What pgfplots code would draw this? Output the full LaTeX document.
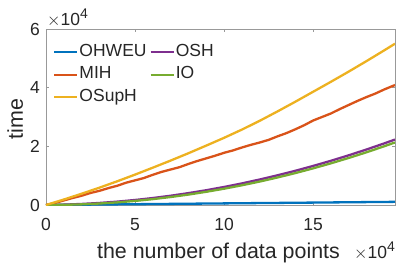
\documentclass[border=0pt]{standalone}
\usepackage{pgfplots}
\pgfplotsset{compat=1.18}
\usepackage{fontspec}
\setmainfont{Liberation Sans}
\definecolor{mblue}{rgb}{0,0.447,0.741}
\definecolor{morange}{rgb}{0.85,0.325,0.098}
\definecolor{myellow}{rgb}{0.929,0.694,0.125}
\definecolor{mpurple}{rgb}{0.494,0.184,0.556}
\definecolor{mgreen}{rgb}{0.466,0.674,0.188}
\definecolor{axgray}{rgb}{0.6,0.6,0.6}
\definecolor{txt}{rgb}{0.15,0.15,0.15}
\newcommand{\tfont}{\fontsize{17.5bp}{20bp}\selectfont}
\newcommand{\lfont}{\fontsize{21.4bp}{24bp}\selectfont}
\newcommand{\scalelab}{$\times$10\raisebox{7bp}{\fontsize{14bp}{16bp}\selectfont 4}}
\begin{document}
\begin{tikzpicture}
\begin{axis}[
  scale only axis,
  width=349bp, height=176bp,
  xmin=0, xmax=19.6, ymin=0, ymax=6,
  xtick={0,5,10,15}, ytick={0,2,4,6},
  tick align=inside,
  major tick length=3bp,
  axis line style={axgray, line width=0.5bp},
  every tick/.style={axgray, line width=0.5bp},
  /pgf/number format/assume math mode=true,
  tick label style={font=\tfont, text=txt},
  xticklabel style={anchor=base, yshift=-25bp, inner sep=0pt},
  yticklabel style={anchor=east, inner sep=0pt, xshift=-6bp},
  label style={font=\lfont, text=txt},
  xlabel={the number of data points},
  ylabel={time},
  xlabel style={at={(axis description cs:0.5,0)}, anchor=base, yshift=-53bp, xshift=-2bp},
  ylabel style={at={(axis description cs:0,0.5)}, anchor=base, yshift=23bp, xshift=-2bp},
  legend style={draw=none, fill=none, at={(rel axis cs:0,1)}, anchor=north west,
    xshift=7bp, yshift=-11.75bp, inner sep=0pt,
    font=\tfont, text=txt,
    row sep=0bp,
    nodes={inner xsep=1bp, inner ysep=3bp, text height=12.5bp, text depth=4bp},
    /tikz/every even column/.append style={column sep=2bp}},
  legend columns=2,
  legend cell align=left,
  legend image code/.code={\draw[#1, line width=2.3bp] (0bp,0bp) -- (23bp,0bp);},
  every axis plot/.append style={line width=2.3bp},
  clip=true,
]
\addplot[mblue] coordinates {(0,0) (1,0.005) (2,0.011) (3,0.016) (4,0.022) (5,0.027) (6,0.033) (7,0.038) (8,0.044) (9,0.049) (10,0.055) (11,0.060) (12,0.066) (13,0.071) (14,0.077) (15,0.082) (16,0.088) (17,0.093) (18,0.099) (19,0.104) (19.6,0.108)};
\addlegendentry{OHWEU}
\addplot[mpurple] coordinates {(0,0) (1,0.012) (2,0.036) (3,0.070) (4,0.115) (5,0.171) (6,0.238) (7,0.316) (8,0.405) (9,0.504) (10,0.615) (11,0.736) (12,0.869) (13,1.012) (14,1.166) (15,1.331) (16,1.507) (17,1.694) (18,1.892) (19,2.101) (19.6,2.231)};
\addlegendentry{OSH}
\addplot[morange] coordinates {(0,0) (0.5,0.07) (1,0.155) (1.5,0.24) (2,0.316) (2.5,0.41) (3,0.483) (3.5,0.575) (4,0.656) (4.5,0.76) (5,0.84) (5.5,0.92) (6,1.03) (6.5,1.13) (7,1.21) (7.5,1.29) (8,1.40) (8.5,1.50) (9,1.59) (9.5,1.68) (10,1.78) (10.5,1.86) (11,1.96) (11.5,2.05) (12,2.13) (12.5,2.22) (13,2.34) (13.5,2.45) (14,2.58) (14.5,2.72) (15,2.88) (15.5,3.00) (16,3.12) (16.5,3.27) (17,3.41) (17.5,3.55) (18,3.68) (18.5,3.80) (19,3.94) (19.6,4.09)};
\addlegendentry{MIH}
\addplot[mgreen] coordinates {(0,0) (1,0.006) (2,0.022) (3,0.050) (4,0.089) (5,0.139) (6,0.200) (7,0.272) (8,0.355) (9,0.450) (10,0.555) (11,0.672) (12,0.799) (13,0.938) (14,1.088) (15,1.249) (16,1.421) (17,1.604) (18,1.798) (19,2.004) (19.6,2.132)};
\addlegendentry{IO}
\addplot[myellow] coordinates {(0,0) (1,0.187) (2,0.384) (3,0.591) (4,0.808) (5,1.036) (6,1.273) (7,1.515) (8,1.765) (9,2.025) (10,2.29) (11,2.57) (12,2.87) (13,3.19) (14,3.52) (15,3.86) (16,4.20) (17,4.548) (18,4.906) (19,5.274) (19.6,5.499)};
\addlegendentry{OSupH}
\end{axis}
\node[anchor=base west, inner sep=0pt, text=txt, font=\tfont] at ([xshift=1bp,yshift=4bp]current axis.north west) {\scalelab};
\node[anchor=base east, inner sep=0pt, text=txt, font=\tfont] at ([yshift=-53bp]current axis.south east) {\scalelab};
\path (current axis.south west) ++(-46bp,-61bp) rectangle ++(399bp,266bp);
\end{tikzpicture}
\end{document}
